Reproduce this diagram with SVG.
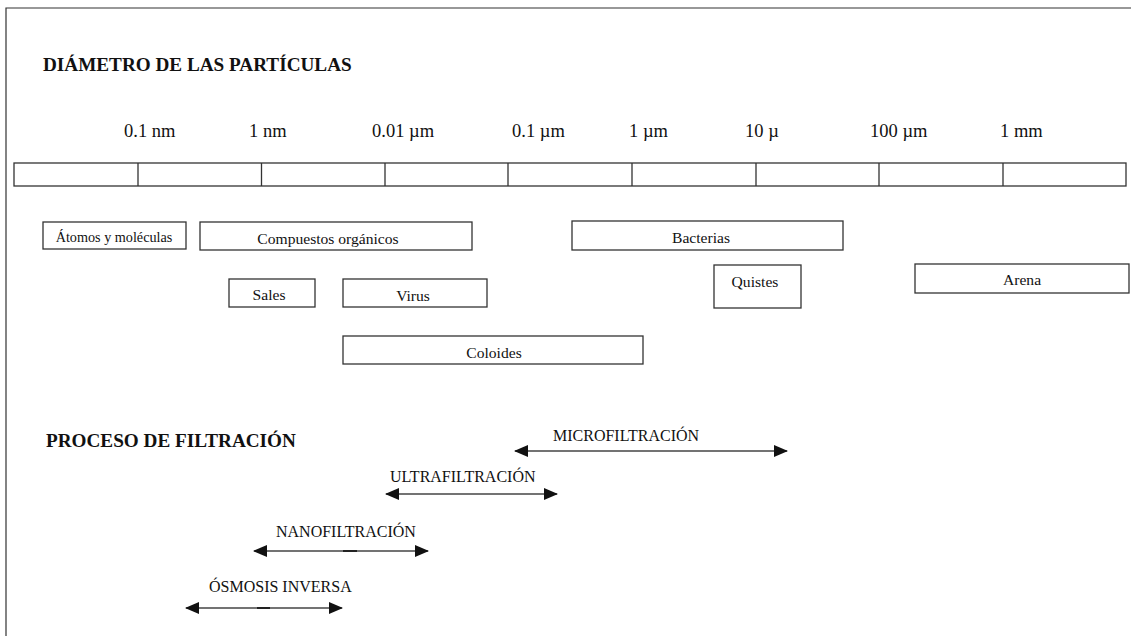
<svg xmlns="http://www.w3.org/2000/svg" width="1131" height="636" viewBox="0 0 1131 636">
<style>
.t{font-family:"Liberation Serif","Times New Roman",serif;fill:#111}
.h{font-size:19.2px;font-weight:bold}
.s{font-size:18.5px}
.b{font-size:15.6px;text-anchor:middle}
.f{font-size:16px}
.box{fill:#fff;stroke:#333;stroke-width:1.3}
.ar{stroke:#444;stroke-width:1.6;fill:none;marker-start:url(#ah);marker-end:url(#ah)}
</style>
<defs>
<marker id="ah" viewBox="0 0 14 12" refX="13" refY="6" markerWidth="14" markerHeight="12" markerUnits="userSpaceOnUse" orient="auto-start-reverse">
<path d="M0,0 L14,6 L0,12 Z" fill="#111"/>
</marker>
</defs>
<rect width="1131" height="636" fill="#fff"/>
<path d="M6,636 V8 H1131" fill="none" stroke="#333" stroke-width="1.2"/>

<text class="t h" x="43" y="71">DIÁMETRO DE LAS PARTÍCULAS</text>

<g id="scale">
<text class="t s" x="124" y="137">0.1 nm</text>
<text class="t s" x="249" y="137">1 nm</text>
<text class="t s" x="372" y="137">0.01 µm</text>
<text class="t s" x="512" y="137">0.1 µm</text>
<text class="t s" x="629" y="137">1 µm</text>
<text class="t s" x="745" y="137">10 µ</text>
<text class="t s" x="870" y="137">100 µm</text>
<text class="t s" x="1000" y="137">1 mm</text>
<rect class="box" x="14" y="163" width="1112" height="23"/>
<path d="M138,163V186M261.5,163V186M385,163V186M508,163V186M632,163V186M756,163V186M879,163V186M1003,163V186" stroke="#333" stroke-width="1.3"/>
</g>

<g id="atomos"><rect class="box" x="43" y="222" width="143" height="27"/><text class="t" style="font-size:14.2px" x="114" y="242" text-anchor="middle">Átomos y moléculas</text></g>
<g id="compuestos"><rect class="box" x="200" y="222" width="272" height="28"/><text class="t b" x="328" y="244">Compuestos orgánicos</text></g>
<g id="bacterias"><rect class="box" x="572" y="221" width="271" height="29"/><text class="t b" x="701" y="243">Bacterias</text></g>
<g id="sales"><rect class="box" x="229" y="279" width="86" height="28"/><text class="t b" x="269" y="300">Sales</text></g>
<g id="virus"><rect class="box" x="343" y="279" width="144" height="28"/><text class="t b" x="413" y="301">Virus</text></g>
<g id="quistes"><rect class="box" x="714" y="265" width="87" height="43"/><text class="t b" x="755" y="287">Quistes</text></g>
<g id="arena"><rect class="box" x="915" y="264" width="214" height="29"/><text class="t b" x="1022" y="285">Arena</text></g>
<g id="coloides"><rect class="box" x="343" y="336" width="300" height="28"/><text class="t b" x="494" y="358">Coloides</text></g>

<text class="t h" x="46" y="447">PROCESO DE FILTRACIÓN</text>

<g id="connectors">
<line class="ar" x1="515" y1="451" x2="787" y2="451"/>
<line class="ar" x1="386" y1="494" x2="557" y2="494"/>
<line class="ar" x1="254" y1="551" x2="428" y2="551"/>
<line class="ar" x1="186" y1="608" x2="342" y2="608"/>
<path d="M343,551H357M257,608H270" stroke="#222" stroke-width="2"/>
</g>

<g id="microfiltracion"><text class="t f" x="553" y="441">MICROFILTRACIÓN</text></g>
<g id="ultrafiltracion"><text class="t f" x="390" y="482">ULTRAFILTRACIÓN</text></g>
<g id="nanofiltracion"><text class="t f" x="276" y="537">NANOFILTRACIÓN</text></g>
<g id="osmosis"><text class="t f" x="209" y="592">ÓSMOSIS INVERSA</text></g>
</svg>
